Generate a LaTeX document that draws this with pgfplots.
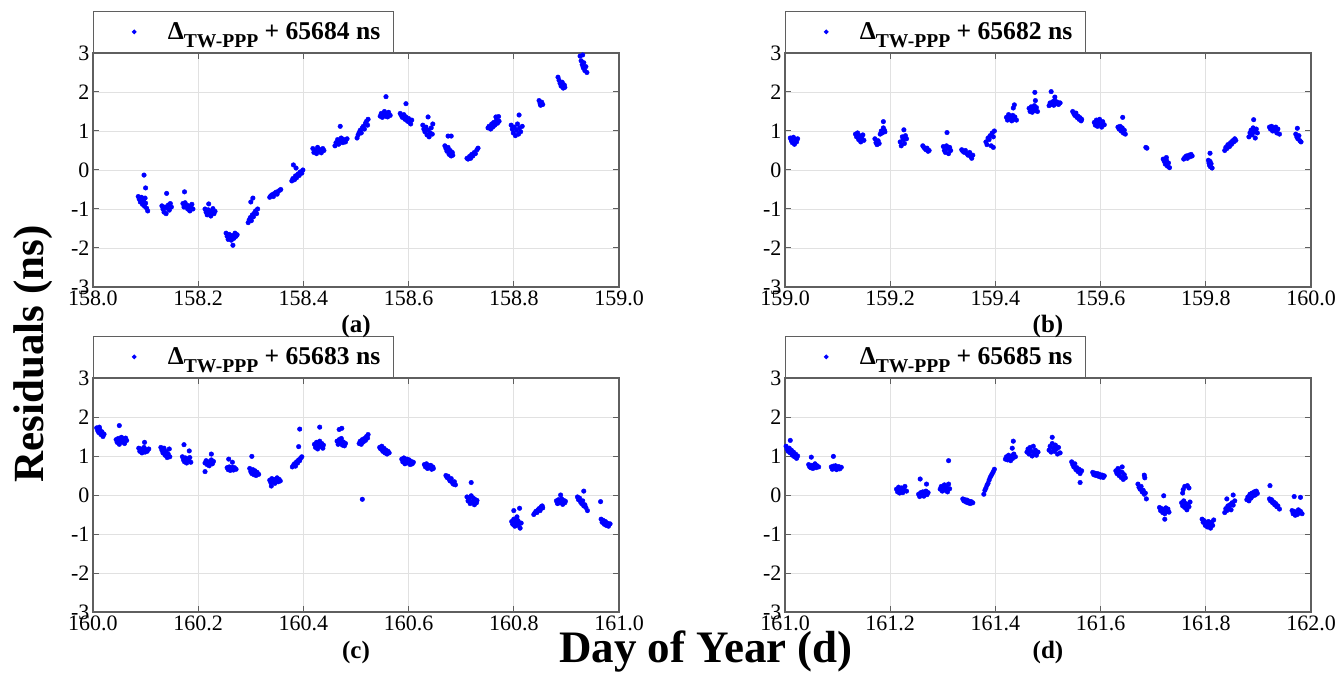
\documentclass[border=0pt]{standalone}
\usepackage{fontspec}
\setmainfont{Liberation Serif}
\usepackage{pgfplots}
\pgfplotsset{compat=1.18}

\definecolor{framegray}{RGB}{95,95,95}
\definecolor{gridgray}{RGB}{225,225,225}
\newcommand{\legtext}[1]{Δ\raisebox{-8pt}{\fontsize{19.6}{20}\selectfont TW-PPP} + #1 ns}

\pgfplotsset{
  panel/.style={
    scale only axis, width=526pt, height=234pt, anchor=south west,
    ymin=-3, ymax=3, ytick={-3,-2,-1,0,1,2,3},
    axis line style={framegray, line width=1.2pt},
    grid=major, major grid style={gridgray, line width=0.8pt},
    tick align=inside, major tick length=6pt,
    tick style={framegray, line width=1pt},
    tick label style={font=\fontsize{22}{24}\selectfont},
    /pgf/number format/assume math mode=true,
    xticklabel style={/pgf/number format/fixed, /pgf/number format/fixed zerofill,
      /pgf/number format/precision=1},
    scaled x ticks=false,
    legend style={at={(0,1)}, anchor=south west, draw=framegray, line width=1.2pt,
      fill=white, inner xsep=0pt, inner ysep=0pt,
      font=\fontsize{25.6}{28}\selectfont\bfseries,
      nodes={inner xsep=13.5pt, inner ysep=0pt, minimum height=41pt}},
    legend image code/.code={\path (0pt,0pt) (59.5pt,0pt);
      \fill[blue] (40pt,0pt) circle (1.7pt);},
  },
  dots/.style={only marks, mark=*, mark size=2.3pt, color=blue},
}

\begin{document}
\begin{tikzpicture}[x=1pt,y=1pt]
\path[use as bounding box] (0,0) rectangle (1339,673);

% (a) day 158
\begin{axis}[panel, at={(93pt,386pt)}, xmin=158, xmax=159,
  xtick={158,158.2,158.4,158.6,158.8,159}]
\addplot[dots] coordinates {
(158.086,-0.68) (158.088,-0.75) (158.090,-0.82) (158.092,-0.70) (158.094,-0.88) (158.096,-0.78) (158.098,-0.93) (158.100,-0.85) (158.102,-0.98) (158.104,-1.05) (158.097,-0.13) (158.100,-0.46) (158.099,-0.72)
(158.131,-0.92) (158.133,-1.00) (158.135,-1.08) (158.137,-0.95) (158.139,-1.12) (158.141,-0.98) (158.143,-0.90) (158.145,-1.03) (158.147,-0.86) (158.149,-0.95) (158.140,-0.60)
(158.171,-0.86) (158.173,-0.95) (158.175,-0.84) (158.178,-0.90) (158.180,-1.00) (158.182,-0.92) (158.184,-1.05) (158.186,-0.95) (158.188,-0.88) (158.190,-1.00) (158.174,-0.56)
(158.213,-1.00) (158.215,-1.08) (158.217,-1.15) (158.219,-1.02) (158.222,-1.10) (158.224,-1.18) (158.226,-1.05) (158.228,-0.99) (158.230,-1.12) (158.232,-1.06) (158.220,-0.87)
(158.253,-1.62) (158.255,-1.70) (158.257,-1.78) (158.259,-1.65) (158.261,-1.72) (158.263,-1.80) (158.265,-1.68) (158.268,-1.75) (158.270,-1.62) (158.272,-1.70) (158.274,-1.66) (158.266,-1.93)
(158.295,-1.35) (158.297,-1.28) (158.299,-1.22) (158.301,-1.30) (158.303,-1.15) (158.305,-1.20) (158.307,-1.10) (158.309,-1.05) (158.311,-1.12) (158.313,-1.00) (158.300,-0.82) (158.304,-0.72)
(158.336,-0.70) (158.338,-0.66) (158.341,-0.63) (158.343,-0.68) (158.345,-0.60) (158.348,-0.57) (158.350,-0.62) (158.352,-0.55) (158.355,-0.52) (158.357,-0.50)
(158.378,-0.28) (158.380,-0.22) (158.383,-0.25) (158.385,-0.15) (158.387,-0.20) (158.390,-0.10) (158.392,-0.14) (158.394,-0.05) (158.397,-0.08) (158.399,0.00) (158.381,0.13) (158.386,0.05)
(158.418,0.55) (158.420,0.45) (158.423,0.50) (158.425,0.42) (158.427,0.58) (158.430,0.48) (158.432,0.52) (158.434,0.44) (158.437,0.55) (158.439,0.50)
(158.460,0.62) (158.462,0.70) (158.465,0.78) (158.467,0.66) (158.470,0.74) (158.472,0.82) (158.475,0.70) (158.477,0.78) (158.480,0.72) (158.483,0.80) (158.470,1.12)
(158.502,0.82) (158.504,0.90) (158.506,0.96) (158.508,1.02) (158.510,0.95) (158.512,1.08) (158.514,1.12) (158.516,1.05) (158.518,1.20) (158.520,1.25) (158.522,1.15) (158.523,1.30)
(158.546,1.38) (158.548,1.45) (158.550,1.35) (158.552,1.42) (158.554,1.50) (158.556,1.38) (158.558,1.44) (158.560,1.36) (158.562,1.48) (158.565,1.40) (158.557,1.88)
(158.584,1.45) (158.586,1.40) (158.588,1.35) (158.591,1.42) (158.593,1.30) (158.595,1.36) (158.598,1.25) (158.600,1.32) (158.602,1.22) (158.604,1.18) (158.606,1.28) (158.595,1.70)
(158.627,1.15) (158.629,1.05) (158.631,0.98) (158.633,1.10) (158.635,0.90) (158.637,1.02) (158.639,0.85) (158.641,0.95) (158.643,1.08) (158.645,0.92) (158.646,1.18) (158.637,1.36)
(158.669,0.62) (158.671,0.55) (158.673,0.48) (158.675,0.58) (158.677,0.40) (158.679,0.50) (158.681,0.36) (158.683,0.45) (158.684,0.38) (158.675,0.87) (158.681,0.87)
(158.711,0.30) (158.713,0.28) (158.716,0.35) (158.718,0.30) (158.720,0.40) (158.722,0.36) (158.725,0.45) (158.727,0.42) (158.730,0.52) (158.732,0.56)
(158.751,1.08) (158.753,1.12) (158.756,1.05) (158.758,1.18) (158.760,1.10) (158.762,1.22) (158.764,1.15) (158.767,1.28) (158.769,1.20) (158.772,1.25) (158.766,1.36) (158.771,1.37)
(158.795,1.15) (158.797,1.05) (158.799,0.95) (158.801,1.10) (158.803,0.88) (158.805,1.02) (158.807,1.18) (158.809,0.92) (158.811,1.08) (158.813,0.98) (158.816,1.12) (158.810,1.41)
(158.848,1.78) (158.850,1.70) (158.851,1.66) (158.853,1.74) (158.855,1.68)
(158.884,2.38) (158.886,2.30) (158.888,2.22) (158.890,2.15) (158.892,2.25) (158.894,2.10) (158.896,2.18) (158.897,2.12)
(158.926,2.92) (158.928,2.80) (158.930,2.70) (158.932,2.62) (158.933,2.75) (158.935,2.55) (158.937,2.65) (158.939,2.50) (158.931,2.95)
};
\addlegendentry{\legtext{65684}}
\end{axis}

% (b) day 159
\begin{axis}[panel, at={(785pt,386pt)}, xmin=159, xmax=160,
  xtick={159,159.2,159.4,159.6,159.8,160}]
\addplot[dots] coordinates {
(159.010,0.82) (159.012,0.75) (159.014,0.70) (159.016,0.84) (159.018,0.66) (159.020,0.78) (159.022,0.72) (159.024,0.80)
(159.134,0.92) (159.136,0.85) (159.138,0.95) (159.140,0.78) (159.142,0.88) (159.144,0.72) (159.146,0.82) (159.148,0.90) (159.150,0.76)
(159.171,0.80) (159.173,0.70) (159.175,0.65) (159.177,0.75) (159.179,0.68) (159.181,0.92) (159.183,1.00) (159.185,0.95) (159.187,1.08) (159.189,1.02) (159.190,0.98) (159.187,1.24)
(159.219,0.72) (159.221,0.62) (159.223,0.85) (159.225,0.78) (159.227,0.68) (159.229,0.88) (159.231,0.80) (159.226,1.03)
(159.262,0.62) (159.264,0.58) (159.266,0.55) (159.268,0.52) (159.270,0.56) (159.272,0.48) (159.274,0.50)
(159.301,0.60) (159.303,0.50) (159.305,0.45) (159.307,0.62) (159.309,0.55) (159.311,0.42) (159.313,0.58) (159.315,0.50) (159.308,0.96)
(159.336,0.52) (159.338,0.48) (159.341,0.45) (159.343,0.50) (159.346,0.42) (159.348,0.38) (159.351,0.45) (159.353,0.35) (159.355,0.30) (159.357,0.38)
(159.382,0.72) (159.384,0.65) (159.386,0.82) (159.388,0.78) (159.390,0.88) (159.392,0.62) (159.394,0.95) (159.396,0.85) (159.398,1.00) (159.396,0.58)
(159.421,1.35) (159.423,1.28) (159.425,1.42) (159.427,1.32) (159.429,1.38) (159.431,1.26) (159.433,1.40) (159.435,1.30) (159.437,1.36) (159.440,1.28) (159.436,1.67) (159.434,1.59)
(159.464,1.58) (159.466,1.50) (159.468,1.62) (159.470,1.48) (159.472,1.55) (159.474,1.65) (159.476,1.52) (159.478,1.60) (159.480,1.50) (159.475,1.99) (159.476,1.78)
(159.502,1.65) (159.504,1.72) (159.507,1.68) (159.509,1.75) (159.511,1.66) (159.513,1.78) (159.515,1.70) (159.518,1.74) (159.520,1.68) (159.523,1.72) (159.506,2.01) (159.513,1.87)
(159.547,1.50) (159.549,1.45) (159.551,1.40) (159.553,1.46) (159.555,1.35) (159.557,1.38) (159.559,1.30) (159.561,1.34) (159.563,1.26) (159.564,1.30)
(159.588,1.22) (159.590,1.15) (159.592,1.28) (159.594,1.12) (159.596,1.20) (159.598,1.30) (159.600,1.18) (159.602,1.10) (159.604,1.24) (159.607,1.16)
(159.633,1.10) (159.635,1.05) (159.637,1.12) (159.639,1.00) (159.641,1.08) (159.643,0.95) (159.645,1.02) (159.647,0.92) (159.642,1.35)
(159.686,0.58) (159.688,0.56)
(159.719,0.28) (159.721,0.22) (159.723,0.15) (159.725,0.25) (159.727,0.10) (159.729,0.18) (159.731,0.06) (159.725,0.32)
(159.758,0.28) (159.760,0.32) (159.763,0.36) (159.765,0.30) (159.768,0.38) (159.770,0.34) (159.772,0.40) (159.774,0.36)
(159.805,0.25) (159.806,0.18) (159.807,0.12) (159.808,0.22) (159.809,0.08) (159.810,0.16) (159.812,0.05) (159.808,0.43)
(159.836,0.50) (159.838,0.58) (159.840,0.55) (159.842,0.65) (159.845,0.60) (159.847,0.70) (159.849,0.66) (159.851,0.75) (159.853,0.72) (159.855,0.80) (159.857,0.76)
(159.882,0.85) (159.884,0.95) (159.886,1.02) (159.888,0.90) (159.890,1.08) (159.892,0.98) (159.894,0.82) (159.896,1.05) (159.898,0.95) (159.891,1.29)
(159.921,1.10) (159.923,1.05) (159.925,1.12) (159.927,1.00) (159.929,1.08) (159.931,1.02) (159.933,1.10) (159.935,0.95) (159.937,1.05) (159.940,0.92)
(159.971,0.92) (159.973,0.85) (159.975,0.80) (159.977,0.88) (159.979,0.75) (159.981,0.72) (159.974,1.07)
};
\addlegendentry{\legtext{65682}}
\end{axis}

% (c) day 160
\begin{axis}[panel, at={(93pt,61pt)}, xmin=160, xmax=161,
  xtick={160,160.2,160.4,160.6,160.8,161}]
\addplot[dots] coordinates {
(160.007,1.72) (160.009,1.65) (160.011,1.60) (160.013,1.68) (160.015,1.55) (160.017,1.62) (160.019,1.50) (160.021,1.56) (160.012,1.74)
(160.044,1.42) (160.046,1.35) (160.048,1.45) (160.050,1.30) (160.052,1.40) (160.054,1.48) (160.056,1.36) (160.058,1.44) (160.060,1.32) (160.062,1.46) (160.064,1.40) (160.050,1.78)
(160.087,1.20) (160.089,1.12) (160.091,1.18) (160.093,1.08) (160.095,1.15) (160.097,1.22) (160.099,1.10) (160.101,1.16) (160.103,1.12) (160.106,1.18) (160.098,1.35)
(160.129,1.22) (160.131,1.15) (160.133,1.08) (160.135,1.20) (160.137,1.02) (160.139,1.12) (160.141,0.96) (160.143,1.05) (160.145,1.18) (160.146,0.98)
(160.170,0.98) (160.172,0.90) (160.174,0.85) (160.176,0.95) (160.178,0.82) (160.180,0.92) (160.182,0.88) (160.184,0.96) (160.186,0.84) (160.173,1.29) (160.183,1.13)
(160.213,0.82) (160.215,0.88) (160.217,0.78) (160.219,0.85) (160.221,0.75) (160.223,0.83) (160.225,0.90) (160.227,0.80) (160.229,0.86) (160.225,1.05) (160.213,0.60)
(160.255,0.70) (160.257,0.65) (160.259,0.72) (160.261,0.63) (160.263,0.68) (160.265,0.71) (160.267,0.64) (160.269,0.70) (160.272,0.66) (160.258,0.92) (160.265,0.84)
(160.298,0.68) (160.300,0.60) (160.302,0.55) (160.304,0.65) (160.306,0.52) (160.308,0.62) (160.310,0.50) (160.312,0.58) (160.315,0.53) (160.302,0.99)
(160.336,0.38) (160.338,0.32) (160.340,0.42) (160.342,0.35) (160.344,0.40) (160.346,0.30) (160.348,0.38) (160.350,0.44) (160.352,0.34) (160.354,0.40) (160.356,0.36) (160.339,0.23)
(160.379,0.72) (160.381,0.76) (160.383,0.80) (160.385,0.74) (160.387,0.85) (160.389,0.82) (160.391,0.90) (160.393,0.88) (160.395,0.95) (160.397,0.98) (160.393,1.69) (160.391,1.24)
(160.421,1.30) (160.423,1.22) (160.425,1.35) (160.427,1.18) (160.429,1.28) (160.431,1.38) (160.433,1.24) (160.435,1.32) (160.437,1.20) (160.438,1.28) (160.431,1.74)
(160.464,1.38) (160.466,1.30) (160.468,1.42) (160.470,1.34) (160.472,1.45) (160.474,1.28) (160.476,1.36) (160.478,1.26) (160.480,1.32) (160.468,1.68) (160.473,1.71)
(160.506,1.32) (160.508,1.38) (160.510,1.30) (160.512,1.42) (160.514,1.36) (160.516,1.45) (160.518,1.40) (160.520,1.50) (160.522,1.46) (160.523,1.55) (160.512,-0.11)
(160.545,1.22) (160.547,1.18) (160.549,1.25) (160.551,1.12) (160.553,1.20) (160.555,1.08) (160.557,1.15) (160.559,1.05) (160.561,1.12) (160.563,1.08)
(160.587,0.92) (160.589,0.85) (160.591,0.95) (160.593,0.80) (160.595,0.88) (160.597,0.92) (160.599,0.82) (160.601,0.90) (160.603,0.78) (160.605,0.86) (160.607,0.80) (160.609,0.84)
(160.630,0.78) (160.632,0.72) (160.634,0.80) (160.636,0.68) (160.638,0.75) (160.640,0.70) (160.642,0.76) (160.644,0.66) (160.646,0.72) (160.647,0.68)
(160.671,0.50) (160.673,0.45) (160.675,0.48) (160.677,0.40) (160.679,0.36) (160.681,0.42) (160.683,0.32) (160.685,0.28) (160.687,0.34) (160.689,0.26)
(160.711,-0.05) (160.713,-0.15) (160.715,-0.10) (160.717,-0.22) (160.719,-0.02) (160.721,-0.18) (160.723,-0.08) (160.725,-0.25) (160.727,-0.12) (160.729,-0.20) (160.730,-0.14) (160.719,0.32)
(160.796,-0.68) (160.798,-0.75) (160.800,-0.62) (160.802,-0.80) (160.804,-0.70) (160.806,-0.78) (160.808,-0.66) (160.810,-0.74) (160.812,-0.85) (160.814,-0.72) (160.811,-0.34) (160.800,-0.40) (160.806,-0.56)
(160.838,-0.50) (160.840,-0.46) (160.842,-0.42) (160.844,-0.45) (160.846,-0.38) (160.848,-0.35) (160.850,-0.40) (160.852,-0.30) (160.854,-0.28) (160.855,-0.33)
(160.881,-0.15) (160.883,-0.22) (160.885,-0.12) (160.887,-0.20) (160.889,-0.18) (160.891,-0.10) (160.893,-0.24) (160.895,-0.14) (160.897,-0.20) (160.898,-0.16) (160.889,0.00)
(160.921,-0.05) (160.923,-0.12) (160.925,-0.08) (160.927,-0.18) (160.929,-0.22) (160.931,-0.15) (160.933,-0.28) (160.935,-0.25) (160.937,-0.32) (160.940,-0.40) (160.933,0.10)
(160.966,-0.62) (160.968,-0.70) (160.970,-0.65) (160.972,-0.75) (160.974,-0.68) (160.976,-0.78) (160.978,-0.72) (160.980,-0.80) (160.983,-0.74) (160.965,-0.17)
};
\addlegendentry{\legtext{65683}}
\end{axis}

% (d) day 161
\begin{axis}[panel, at={(785pt,61pt)}, xmin=161, xmax=162,
  xtick={161,161.2,161.4,161.6,161.8,162}]
\addplot[dots] coordinates {
(161.002,1.25) (161.004,1.18) (161.006,1.12) (161.008,1.20) (161.010,1.08) (161.012,1.15) (161.014,1.02) (161.016,1.10) (161.018,0.98) (161.020,1.05) (161.022,0.94) (161.024,1.00) (161.010,1.40)
(161.045,0.78) (161.047,0.72) (161.049,0.70) (161.051,0.76) (161.053,0.68) (161.055,0.74) (161.057,0.80) (161.059,0.70) (161.061,0.75) (161.064,0.72) (161.050,0.97)
(161.088,0.72) (161.090,0.66) (161.092,0.74) (161.094,0.68) (161.096,0.75) (161.098,0.65) (161.100,0.70) (161.102,0.73) (161.104,0.67) (161.107,0.71) (161.092,0.99)
(161.212,0.15) (161.214,0.08) (161.216,0.20) (161.218,0.05) (161.220,0.12) (161.222,0.18) (161.224,0.06) (161.226,0.14) (161.228,0.22) (161.231,0.10)
(161.254,0.02) (161.256,-0.04) (161.258,0.06) (161.260,0.00) (161.262,0.08) (161.264,-0.03) (161.266,0.04) (161.268,0.10) (161.270,0.01) (161.272,0.06) (161.257,0.41) (161.269,0.28)
(161.295,0.15) (161.297,0.22) (161.299,0.10) (161.301,0.18) (161.303,0.26) (161.305,0.12) (161.307,0.20) (161.309,0.08) (161.311,0.28) (161.313,0.16) (161.311,0.88)
(161.338,-0.10) (161.340,-0.15) (161.342,-0.12) (161.344,-0.18) (161.346,-0.13) (161.348,-0.20) (161.350,-0.16) (161.352,-0.22) (161.354,-0.17) (161.357,-0.20)
(161.378,0.02) (161.380,0.12) (161.382,0.18) (161.384,0.25) (161.386,0.30) (161.388,0.38) (161.390,0.45) (161.392,0.50) (161.394,0.55) (161.396,0.60) (161.398,0.66)
(161.419,0.92) (161.421,0.98) (161.423,0.90) (161.425,1.02) (161.427,0.95) (161.429,0.88) (161.431,1.00) (161.433,0.94) (161.435,1.05) (161.438,0.98) (161.434,1.38) (161.432,1.20)
(161.460,1.10) (161.462,1.18) (161.464,1.05) (161.466,1.22) (161.468,1.12) (161.470,1.00) (161.472,1.25) (161.474,1.08) (161.476,1.15) (161.478,1.02) (161.481,1.10)
(161.502,1.15) (161.504,1.25) (161.506,1.10) (161.508,1.32) (161.510,1.20) (161.512,1.12) (161.514,1.28) (161.516,1.18) (161.518,1.05) (161.520,1.22) (161.523,1.08) (161.508,1.48)
(161.545,0.85) (161.547,0.78) (161.549,0.72) (161.551,0.80) (161.553,0.65) (161.555,0.70) (161.557,0.60) (161.559,0.66) (161.561,0.55) (161.564,0.62) (161.561,0.32)
(161.585,0.58) (161.587,0.52) (161.589,0.56) (161.591,0.50) (161.594,0.55) (161.596,0.48) (161.598,0.53) (161.600,0.46) (161.603,0.51) (161.605,0.45) (161.607,0.49)
(161.629,0.62) (161.631,0.55) (161.633,0.68) (161.635,0.50) (161.637,0.60) (161.639,0.45) (161.641,0.58) (161.643,0.40) (161.645,0.52) (161.647,0.44) (161.641,0.72)
(161.671,0.28) (161.673,0.20) (161.675,0.15) (161.677,0.22) (161.679,0.08) (161.681,0.12) (161.683,0.02) (161.685,0.05) (161.687,-0.10) (161.683,0.51) (161.684,0.44)
(161.712,-0.32) (161.714,-0.40) (161.716,-0.35) (161.718,-0.45) (161.720,-0.38) (161.722,-0.48) (161.724,-0.33) (161.726,-0.42) (161.728,-0.36) (161.730,-0.44) (161.720,-0.02) (161.722,-0.62)
(161.754,-0.20) (161.756,-0.28) (161.758,-0.15) (161.760,-0.32) (161.762,-0.22) (161.764,-0.38) (161.766,-0.25) (161.768,-0.30) (161.770,-0.18) (161.757,0.14) (161.760,0.22) (161.765,0.24) (161.768,0.18) (161.756,0.05)
(161.793,-0.62) (161.795,-0.70) (161.797,-0.66) (161.799,-0.78) (161.801,-0.72) (161.803,-0.82) (161.805,-0.68) (161.807,-0.75) (161.809,-0.85) (161.811,-0.70) (161.813,-0.78) (161.815,-0.64)
(161.836,-0.45) (161.838,-0.35) (161.840,-0.40) (161.842,-0.28) (161.844,-0.32) (161.846,-0.25) (161.848,-0.38) (161.850,-0.20) (161.852,-0.26) (161.855,-0.15) (161.852,0.00) (161.840,-0.10)
(161.878,-0.12) (161.880,-0.05) (161.882,-0.15) (161.884,0.02) (161.886,-0.08) (161.888,0.05) (161.890,-0.02) (161.892,0.08) (161.894,0.00) (161.896,0.10) (161.898,0.04)
(161.921,-0.10) (161.923,-0.15) (161.925,-0.12) (161.927,-0.20) (161.929,-0.18) (161.931,-0.25) (161.933,-0.22) (161.935,-0.30) (161.937,-0.28) (161.940,-0.36) (161.922,0.24)
(161.964,-0.40) (161.966,-0.48) (161.968,-0.42) (161.970,-0.52) (161.972,-0.45) (161.974,-0.50) (161.976,-0.38) (161.978,-0.46) (161.980,-0.42) (161.983,-0.48) (161.968,-0.04) (161.980,-0.06)
};
\addlegendentry{\legtext{65685}}
\end{axis}

% panel letters and shared axis titles
\begin{scope}[every node/.style={font=\fontsize{25}{27}\selectfont\bfseries}]
\node at (356,347) {(a)};
\node at (1048,347) {(b)};
\node at (356,21) {(c)};
\node at (1048,21) {(d)};
\end{scope}
\node[rotate=90, font=\fontsize{43}{45}\selectfont\bfseries] at (33,319) {Residuals (ns)};
\node[anchor=base, font=\fontsize{45}{47}\selectfont\bfseries] at (706,11) {Day of Year (d)};
\end{tikzpicture}
\end{document}
